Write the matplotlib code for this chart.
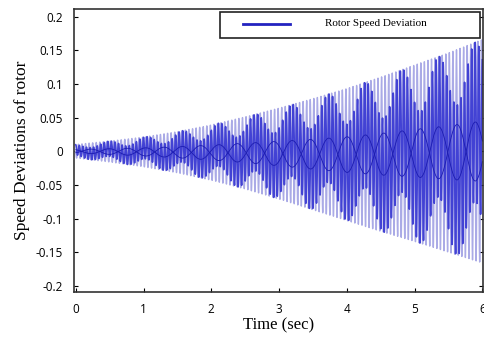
import matplotlib
matplotlib.use("Agg")
import matplotlib.pyplot as plt
from matplotlib.patches import Rectangle
from matplotlib.lines import Line2D
import numpy as np

# outer envelope of the oscillation
env_t = [0.0, 0.5, 1.0, 1.5, 2.0, 2.5, 3.0, 3.5, 4.0, 4.5, 5.0, 5.5, 6.0]
env_up = [0.010, 0.015, 0.021, 0.029, 0.039, 0.051, 0.064, 0.078, 0.093, 0.110, 0.128, 0.146, 0.166]
env_lo = [-0.010, -0.016, -0.023, -0.032, -0.043, -0.056, -0.071, -0.087, -0.103, -0.119, -0.134, -0.150, -0.166]

# oscillation parameters
carrier_hz = 19.0     # fast rotor swing
beat_hz = 1.85        # slow lobes of the dark band
dark_share = 0.73     # part of envelope taken by the fast swing in dark trace

t = np.arange(0, 6.0, 0.001)
up = np.interp(t, env_t, env_up)
lo = np.interp(t, env_t, env_lo)
mid = (up + lo) / 2
half = (up - lo) / 2
slow = np.cos(2 * np.pi * beat_hz * t + 0.6)

light = mid + half * np.cos(2 * np.pi * carrier_hz * t + 1.6)
dark = mid + half * (dark_share * np.cos(2 * np.pi * carrier_hz * t) + (1 - dark_share) * slow)

fig = plt.figure(figsize=(4.84, 3.41), dpi=100)
ax = fig.add_axes([0.153, 0.145, 0.845, 0.828])

ax.plot(t, light, color="#aaaae6", lw=1.0)
ax.plot(t, dark, color="#4242d4", lw=1.2)
ax.plot(t, mid + half * (1 - dark_share) * slow, color="#1c1cb0", lw=0.6)
ax.plot(t, mid - half * (1 - dark_share) * slow, color="#1c1cb0", lw=0.6)

ax.set_xlim(-0.025, 6.01)
ax.set_ylim(-0.2085, 0.211)
ax.set_xticks([0, 1, 2, 3, 4, 5, 6])
ax.set_yticks([-0.2, -0.15, -0.1, -0.05, 0, 0.05, 0.1, 0.15, 0.2])
ax.set_yticklabels(["-0.2", "-0.15", "-0.1", "-0.05", "0", "0.05", "0.1", "0.15", "0.2"])
ax.tick_params(direction="in", length=3, right=True, top=False, labelsize=8.5, pad=8)
for lab in ax.get_xticklabels() + ax.get_yticklabels():
    lab.set_family(["Open Sans", "DejaVu Sans"])
for s in ax.spines.values():
    s.set_color("#333333")
    s.set_linewidth(1.2)

ax.set_xlabel("Time (sec)", family="Liberation Serif", fontsize=12, labelpad=1)
ax.set_ylabel("Speed Deviations of rotor", family="Liberation Serif", fontsize=12.5, labelpad=4)

# legend box drawn by hand to match its placement
W, H = 484, 341
fig.add_artist(Rectangle((220 / W, 1 - 38 / H), 260 / W, 26 / H, transform=fig.transFigure,
                         facecolor="white", edgecolor="#222222", lw=1.2, zorder=5))
fig.add_artist(Line2D([243 / W, 290 / W], [1 - 24 / H, 1 - 24 / H], transform=fig.transFigure,
                      color="#2222c0", lw=2, zorder=6))
fig.text(325 / W, 1 - 24 / H, "Rotor Speed Deviation", family="Liberation Serif", fontsize=8,
         va="center", ha="left", zorder=6)

fig.savefig("out.png", dpi=100)
